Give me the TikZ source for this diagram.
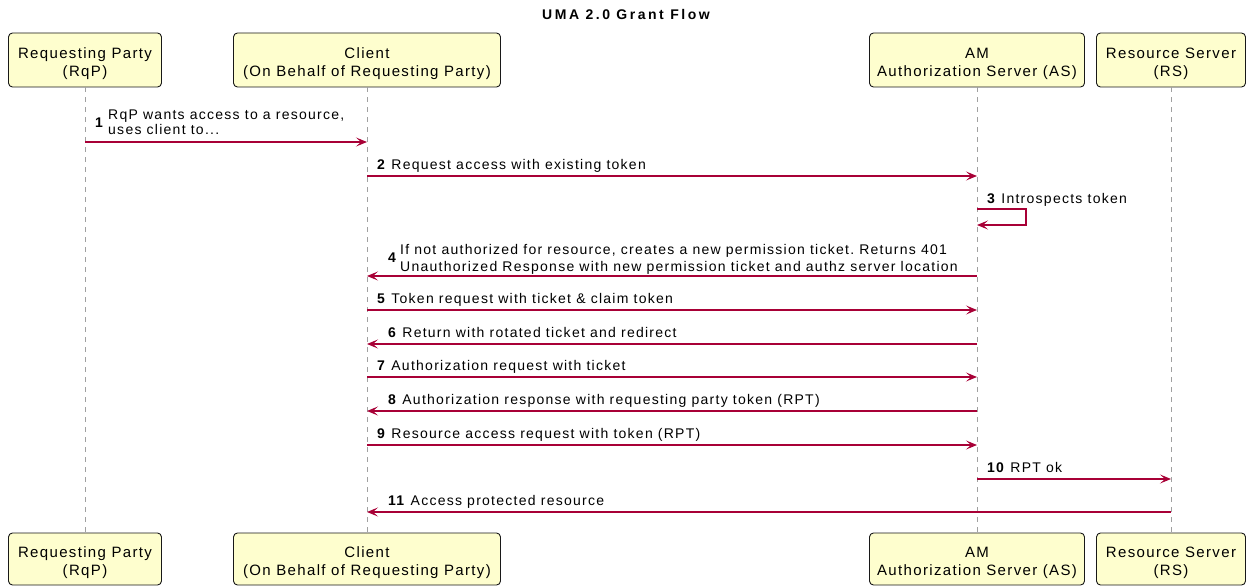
\documentclass[tikz,border=0pt]{standalone}
\usepackage{fontspec}
\setmainfont{Liberation Sans}
\newfontfamily\umamsg{Liberation Sans}[LetterSpace=9]
\newfontfamily\umatitle{Liberation Sans}[LetterSpace=18]
\usetikzlibrary{arrows.meta}
\definecolor{arr}{HTML}{A80036}
\definecolor{boxfill}{HTML}{FEFECE}
\definecolor{boxline}{HTML}{181818}
\definecolor{life}{HTML}{A0A0A0}
\tikzset{
  actor/.style={draw=boxline, fill=boxfill, rounded corners=4pt, line width=0.9pt,
    inner sep=0pt, minimum height=54pt},
  actortext/.style={align=center, inner sep=0pt,
    font=\umamsg\fontsize{15}{18}\selectfont},
  lifeline/.style={draw=life, dash pattern=on 5pt off 5pt, line width=1pt},
  msg/.style={draw=arr, line width=1.2pt, -{Stealth[length=11pt,width=9pt,inset=5pt]}},
  lbl/.style={anchor=base west, inner sep=0pt, font=\umamsg\fontsize{14}{17}\selectfont},
  ttl/.style={anchor=base, inner sep=0pt, font=\umatitle\bfseries\fontsize{14}{16}\selectfont}
}
\begin{document}
\frenchspacing
\begin{tikzpicture}[x=1pt,y=-1pt]
\useasboundingbox (0,0) rectangle (1251,586);
\node[ttl] (title) at (626,20) {UMA 2.0 Grant Flow};
% top participants
\node[actor, minimum width=153pt] (rqpT) at (85,60) {};
\node[actor, minimum width=267pt] (cliT) at (367,60) {};
\node[actor, minimum width=215pt] (asT) at (977,60) {};
\node[actor, minimum width=149pt] (rsT) at (1171,60) {};
\node[actortext] (rqpTt) at (85,63.5) {Requesting Party\\(RqP)};
\node[actortext] (cliTt) at (367,63.5) {Client\\(On Behalf of Requesting Party)};
\node[actortext] (asTt) at (977,63.5) {AM\\Authorization Server (AS)};
\node[actortext] (rsTt) at (1171,63.5) {Resource Server\\(RS)};
% bottom participants
\node[actor, minimum width=153pt, minimum height=52pt] (rqpB) at (85,559) {};
\node[actor, minimum width=267pt, minimum height=52pt] (cliB) at (367,559) {};
\node[actor, minimum width=215pt, minimum height=52pt] (asB) at (977,559) {};
\node[actor, minimum width=149pt, minimum height=52pt] (rsB) at (1171,559) {};
\node[actortext] (rqpBt) at (85,562.5) {Requesting Party\\(RqP)};
\node[actortext] (cliBt) at (367,562.5) {Client\\(On Behalf of Requesting Party)};
\node[actortext] (asBt) at (977,562.5) {AM\\Authorization Server (AS)};
\node[actortext] (rsBt) at (1171,562.5) {Resource Server\\(RS)};
% lifelines
\draw[lifeline] (rqpT) -- (rqpB);
\draw[lifeline] (cliT) -- (cliB);
\draw[lifeline] (asT) -- (asB);
\draw[lifeline] (rsT) -- (rsB);
% message rows
\coordinate (y1) at (0,142);
\coordinate (y2) at (0,176);
\coordinate (y3a) at (0,209);
\coordinate (y3b) at (0,225);
\coordinate (y4) at (0,276);
\coordinate (y5) at (0,310);
\coordinate (y6) at (0,344);
\coordinate (y7) at (0,377);
\coordinate (y8) at (0,411);
\coordinate (y9) at (0,445);
\coordinate (y10) at (0,479);
\coordinate (y11) at (0,512);
% 1
\draw[msg] (rqpT |- y1) -- (cliT |- y1);
\node[lbl] (n1) at (95,127) {\bfseries 1};
\node[lbl] (t1a) at (108,119) {RqP wants access to a resource,};
\node[lbl] (t1b) at (108,135) {uses client to...};
% 2
\draw[msg] (cliT |- y2) -- (asT |- y2);
\node[lbl] (t2) at (377,169) {\textbf{2} Request access with existing token};
% 3
\draw[msg] (asT |- y3a) -- ++(49,0) -- ++(0,16) -- (asT |- y3b);
\node[lbl] (t3) at (987,203) {\textbf{3} Introspects token};
% 4
\draw[msg] (asT |- y4) -- (cliT |- y4);
\node[lbl] (n4) at (388,262.5) {\bfseries 4};
\node[lbl] (t4a) at (400,254) {If not authorized for resource, creates a new permission ticket. Returns 401};
\node[lbl] (t4b) at (400,271) {Unauthorized Response with new permission ticket and authz server location};
% 5
\draw[msg] (cliT |- y5) -- (asT |- y5);
\node[lbl] (t5) at (377,303) {\textbf{5} Token request with ticket \& claim token};
% 6
\draw[msg] (asT |- y6) -- (cliT |- y6);
\node[lbl] (t6) at (388,337) {\textbf{6} Return with rotated ticket and redirect};
% 7
\draw[msg] (cliT |- y7) -- (asT |- y7);
\node[lbl] (t7) at (377,370) {\textbf{7} Authorization request with ticket};
% 8
\draw[msg] (asT |- y8) -- (cliT |- y8);
\node[lbl] (t8) at (388,404) {\textbf{8} Authorization response with requesting party token (RPT)};
% 9
\draw[msg] (cliT |- y9) -- (asT |- y9);
\node[lbl] (t9) at (377,438) {\textbf{9} Resource access request with token (RPT)};
% 10
\draw[msg] (asT |- y10) -- (rsT |- y10);
\node[lbl] (t10) at (987,472) {\textbf{10} RPT ok};
% 11
\draw[msg] (rsT |- y11) -- (cliT |- y11);
\node[lbl] (t11) at (388,505) {\textbf{11} Access protected resource};
\end{tikzpicture}
\end{document}
